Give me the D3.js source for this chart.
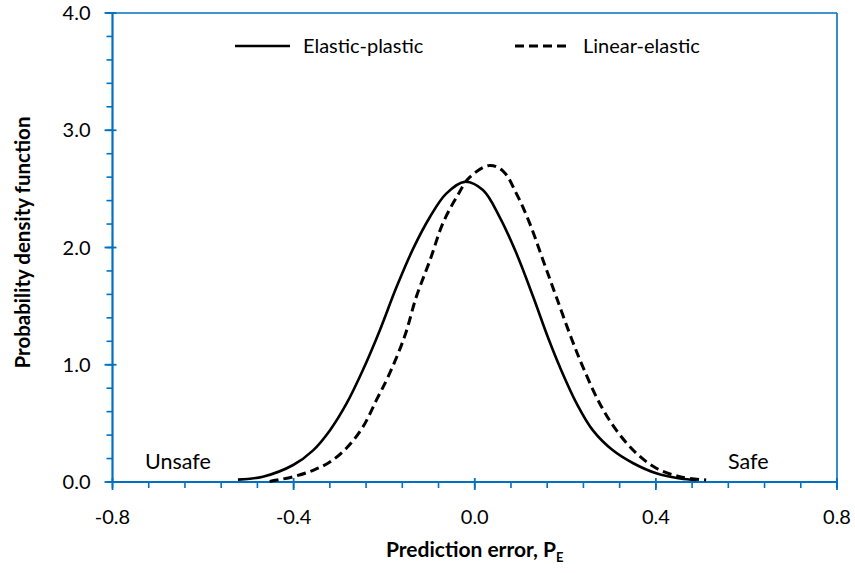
<!DOCTYPE html>
<html>
<head>
<meta charset="utf-8">
<script src="https://cdn.jsdelivr.net/npm/d3@7"></script>
<style>
  html, body { margin: 0; padding: 0; background: #fff; }
  svg { display: block; font-family: Lato, "Open Sans", sans-serif; }
</style>
</head>
<body>
<svg id="chart" width="855" height="573"></svg>
<script>
// Probability density of the prediction error for two analysis models
const elasticPlasticX = [-0.523, -0.468, -0.401, -0.357, -0.320, -0.283, -0.247, -0.210, -0.173, -0.136, -0.099, -0.063, -0.022, 0.018, 0.055, 0.092, 0.129, 0.162, 0.188, 0.225, 0.261, 0.305, 0.350, 0.401, 0.453, 0.490];
const elasticPlasticY = [0.02, 0.045, 0.145, 0.27, 0.44, 0.67, 0.955, 1.29, 1.66, 1.99, 2.26, 2.46, 2.56, 2.49, 2.26, 1.95, 1.58, 1.23, 0.98, 0.67, 0.44, 0.27, 0.16, 0.074, 0.03, 0.017];

const linearElasticX = [-0.453, -0.401, -0.357, -0.320, -0.283, -0.247, -0.217, -0.191, -0.155, -0.129, -0.099, -0.070, -0.040, -0.011, 0.033, 0.063, 0.092, 0.121, 0.151, 0.180, 0.214, 0.239, 0.276, 0.313, 0.357, 0.401, 0.453, 0.511];
const linearElasticY = [0.005, 0.045, 0.10, 0.17, 0.29, 0.47, 0.70, 0.90, 1.24, 1.58, 1.89, 2.21, 2.43, 2.60, 2.70, 2.65, 2.46, 2.21, 1.89, 1.58, 1.22, 0.98, 0.67, 0.44, 0.245, 0.117, 0.045, 0.017];

const xTickLabels = [-0.8, -0.4, 0, 0.4, 0.8];
const yTickLabels = [0, 1, 2, 3, 4];
const seriesNames = ["Elastic-plastic", "Linear-elastic"];

const axisColor = "#0070C0";
const svg = d3.select("#chart");
const plotLeft = 112.5, plotRight = 837, plotTop = 13, plotBottom = 482;

const x = d3.scaleLinear().domain([-0.8, 0.8]).range([plotLeft, plotRight]);
const y = d3.scaleLinear().domain([0, 4]).range([plotBottom, plotTop]);

// Axis frame: top and right edges plus the two axes
svg.append("line").attr("x1", plotLeft).attr("x2", plotRight).attr("y1", plotTop).attr("y2", plotTop)
  .attr("stroke", axisColor).attr("stroke-width", 1.6);
svg.append("line").attr("x1", plotRight).attr("x2", plotRight).attr("y1", plotTop).attr("y2", plotBottom)
  .attr("stroke", axisColor).attr("stroke-width", 1.6);

// Minor ticks: every 0.08 on x, every 0.2 on y
const xMinor = d3.range(0, 21).map(i => -0.8 + i * 0.08);
const yMinor = d3.range(0, 21).map(i => i * 0.2);
const g = svg.append("g");
g.selectAll(".xm").data(xMinor).join("line")
  .attr("x1", d => x(d)).attr("x2", d => x(d))
  .attr("y1", plotBottom).attr("y2", plotBottom + 6)
  .attr("stroke", axisColor).attr("stroke-width", 1.6);
g.selectAll(".ym").data(yMinor).join("line")
  .attr("x1", plotLeft - 6).attr("x2", plotLeft)
  .attr("y1", d => y(d)).attr("y2", d => y(d))
  .attr("stroke", axisColor).attr("stroke-width", 1.6);
// Major ticks cross the axis
g.selectAll(".xM").data(xTickLabels).join("line")
  .attr("x1", d => x(d)).attr("x2", d => x(d))
  .attr("y1", plotBottom - 4).attr("y2", plotBottom + 8)
  .attr("stroke", axisColor).attr("stroke-width", 1.8);
g.selectAll(".yM").data(yTickLabels).join("line")
  .attr("x1", plotLeft - 8).attr("x2", plotLeft + 4)
  .attr("y1", d => y(d)).attr("y2", d => y(d))
  .attr("stroke", axisColor).attr("stroke-width", 1.8);

svg.append("line").attr("x1", plotLeft).attr("x2", plotLeft).attr("y1", plotTop).attr("y2", plotBottom)
  .attr("stroke", axisColor).attr("stroke-width", 2.2);
svg.append("line").attr("x1", plotLeft).attr("x2", plotRight).attr("y1", plotBottom).attr("y2", plotBottom)
  .attr("stroke", axisColor).attr("stroke-width", 2.2);

// Tick labels
svg.selectAll(".xl").data(xTickLabels).join("text")
  .attr("x", d => x(d)).attr("y", plotBottom + 42)
  .attr("text-anchor", "middle").attr("font-size", 20).attr("fill", "#000")
  .text(d => d3.format(".1f")(d).replace("−", "-"));
svg.selectAll(".yl").data(yTickLabels).join("text")
  .attr("x", plotLeft - 22).attr("y", d => y(d) + 7)
  .attr("text-anchor", "end").attr("font-size", 20).attr("fill", "#000")
  .text(d => d3.format(".1f")(d));

// Axis titles
const xt = svg.append("text").attr("x", x(0)).attr("y", 557)
  .attr("text-anchor", "middle").attr("font-size", 21).attr("font-weight", "bold");
xt.append("tspan").text("Prediction error, P");
xt.append("tspan").attr("font-size", 13).attr("dy", 5).text("E");

svg.append("text")
  .attr("transform", `translate(30,${(plotTop + plotBottom) / 2 - 5}) rotate(-90)`)
  .attr("text-anchor", "middle").attr("font-size", 20.5).attr("font-weight", "bold")
  .text("Probability density function");

// Region annotations
svg.append("text").attr("x", 145).attr("y", 469).attr("font-size", 21.5).text("Unsafe");
svg.append("text").attr("x", 728).attr("y", 469).attr("font-size", 21.5).text("Safe");

// Density curves
const line = d3.line().x(d => x(d[0])).y(d => y(d[1])).curve(d3.curveCatmullRom.alpha(0.5));
const epData = elasticPlasticX.map((v, i) => [v, elasticPlasticY[i]]);
const leData = linearElasticX.map((v, i) => [v, linearElasticY[i]]);

svg.append("path").datum(leData).attr("d", line)
  .attr("fill", "none").attr("stroke", "#000").attr("stroke-width", 3)
  .attr("stroke-dasharray", "9,5");
svg.append("path").datum(epData).attr("d", line)
  .attr("fill", "none").attr("stroke", "#000").attr("stroke-width", 2.6);

// Legend
const legend = [
  { name: seriesNames[0], x1: 235, dash: null, w: 2.6 },
  { name: seriesNames[1], x1: 515, dash: "9,5", w: 3 }
];
legend.forEach(l => {
  svg.append("line").attr("x1", l.x1).attr("x2", l.x1 + 55).attr("y1", 46).attr("y2", 46)
    .attr("stroke", "#000").attr("stroke-width", l.w).attr("stroke-dasharray", l.dash);
  svg.append("text").attr("x", l.x1 + 68).attr("y", 53).attr("font-size", 20).text(l.name);
});
</script>
</body>
</html>
